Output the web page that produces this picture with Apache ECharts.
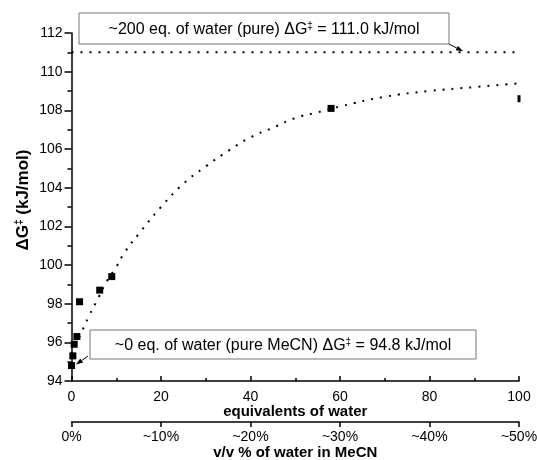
<!DOCTYPE html>
<html>
<head>
<meta charset="utf-8">
<script src="https://cdn.jsdelivr.net/npm/echarts@6/dist/echarts.min.js"></script>
<style>
html, body { margin: 0; padding: 0; background: #fff; }
#chart { width: 537px; height: 460px; }
</style>
</head>
<body>
<div id="chart"></div>
<script>
// measured points: equivalents of water vs barrier
var eqWater = [0, 0.3, 0.6, 1.2, 1.8, 6.3, 9.0, 58, 100];
var dGvalues = [94.8, 95.3, 95.9, 96.3, 98.1, 98.7, 99.4, 108.1, 108.6];
// dotted fit curve
var fitX = [0, 2, 4, 6, 8, 10, 12, 15, 20, 25, 30, 35, 40, 45, 50, 55, 60, 70, 80, 90, 100];
var fitY = [95.4, 96.4, 97.4, 98.3, 99.2, 99.9, 100.7, 101.6, 103.0, 104.2, 105.1, 105.9, 106.6, 107.1, 107.6, 107.9, 108.2, 108.7, 109.0, 109.2, 109.4];
// pure water level
var pureWater = 111.0;
var pureLineX = [0, 100];
// axis ticks
var xTicks = [0, 100, 20];
var yTicks = [94, 112, 2];
var vvTicks = [0, 50, 10];

var FONT = 'Liberation Sans';
var chart = echarts.init(document.getElementById('chart'));

var scatterData = eqWater.map(function (x, i) {
    var d = { value: [x, dGvalues[i]] };
    if (x === 100) d.symbolSize = [3, 7];
    return d;
});

var option = {
    animation: false,
    textStyle: { fontFamily: FONT },
    grid: { left: 71.5, right: 18, top: 33, bottom: 79, outerBoundsMode: 'none', containLabel: false },
    xAxis: [{
        type: 'value', min: xTicks[0], max: xTicks[1], interval: xTicks[2],
        position: 'bottom',
        name: 'equivalents of water', nameLocation: 'middle', nameGap: 23, nameMoveOverlap: false,
        nameTextStyle: { fontFamily: FONT, fontSize: 15, fontWeight: 'bold', color: '#000' },
        axisLine: { lineStyle: { color: '#000', width: 1.5 } },
        axisTick: { inside: true, length: 5, lineStyle: { color: '#000', width: 1.5 } },
        minorTick: { show: true, splitNumber: 2, length: 3, lineStyle: { color: '#000', width: 1.5 } },
        axisLabel: { fontFamily: FONT, fontSize: 14, color: '#000', margin: 9 },
        splitLine: { show: false }
    }, {
        type: 'value', min: vvTicks[0], max: vvTicks[1], interval: vvTicks[2],
        position: 'bottom', offset: 41,
        name: 'v/v % of water in MeCN', nameLocation: 'middle', nameGap: 23, nameMoveOverlap: false,
        nameTextStyle: { fontFamily: FONT, fontSize: 15, fontWeight: 'bold', color: '#000' },
        axisLine: { lineStyle: { color: '#000', width: 1.5 } },
        axisTick: { inside: false, length: 5, lineStyle: { color: '#000', width: 1.5 } },
        axisLabel: {
            fontFamily: FONT, fontSize: 14, color: '#000', margin: 8,
            formatter: function (v) { return v === 0 ? '0%' : '~' + v + '%'; }
        },
        splitLine: { show: false }
    }],
    yAxis: {
        type: 'value', min: yTicks[0], max: yTicks[1], interval: yTicks[2],
        name: '{n|ΔG}{s|‡}{n| (kJ/mol)}', nameLocation: 'middle', nameGap: 40, nameRotate: 90,
        nameMoveOverlap: false,
        nameTextStyle: {
            padding: [0, 0, 0, 14],
            rich: {
                n: { fontFamily: FONT, fontSize: 17, fontWeight: 'bold', color: '#000', verticalAlign: 'bottom' },
                s: { fontFamily: FONT, fontSize: 10, fontWeight: 'bold', color: '#000', verticalAlign: 'top' }
            }
        },
        axisLine: { show: true, lineStyle: { color: '#000', width: 1.5 } },
        axisTick: { inside: false, length: 7, lineStyle: { color: '#000', width: 1.5 } },
        minorTick: { show: true, splitNumber: 2, length: 4, lineStyle: { color: '#000', width: 1.5 } },
        axisLabel: { fontFamily: FONT, fontSize: 14, color: '#000', margin: 9 },
        splitLine: { show: false }
    },
    series: [{
        type: 'line',
        data: pureLineX.map(function (x) { return [x, pureWater]; }),
        showSymbol: false,
        lineStyle: { color: '#000', width: 2, type: [2, 7] },
        silent: true
    }, {
        type: 'line',
        data: fitX.map(function (x, i) { return [x, fitY[i]]; }),
        smooth: true,
        showSymbol: false,
        lineStyle: { color: '#000', width: 2, type: [2, 7] },
        silent: true
    }, {
        type: 'scatter',
        data: scatterData,
        symbol: 'rect',
        symbolSize: 7,
        itemStyle: { color: '#000', opacity: 1 },
        z: 5
    }]
};
chart.setOption(option);

function arrow(from, tip) {
    var ang = Math.atan2(tip[1] - from[1], tip[0] - from[0]);
    var L = 7, W = 2.5;
    var bx = tip[0] - L * Math.cos(ang), by = tip[1] - L * Math.sin(ang);
    var px = -Math.sin(ang) * W, py = Math.cos(ang) * W;
    return [{
        type: 'polyline', z: 10,
        shape: { points: [from, [bx, by]] },
        style: { stroke: '#000', lineWidth: 1, fill: null }
    }, {
        type: 'polygon', z: 10,
        shape: { points: [tip, [bx + px, by + py], [bx - px, by - py]] },
        style: { fill: '#000' }
    }];
}

function labelBox(x, y, w, h, text) {
    return [{
        type: 'rect', z: 9,
        shape: { x: x, y: y, width: w, height: h },
        style: { fill: '#fff', stroke: '#777', lineWidth: 1 }
    }, {
        type: 'text', z: 11,
        x: x + w / 2, y: y + h / 2 + 1,
        style: {
            text: text, align: 'center', verticalAlign: 'middle',
            rich: {
                n: { fontFamily: FONT, fontSize: 16, fill: '#000', verticalAlign: 'bottom' },
                s: { fontFamily: FONT, fontSize: 10, fill: '#000', verticalAlign: 'top' }
            }
        }
    }];
}

var tip1 = chart.convertToPixel({ xAxisIndex: 0, yAxisIndex: 0 }, [87.5, pureWater]);
var tip2 = chart.convertToPixel({ xAxisIndex: 0, yAxisIndex: 0 }, [1.0, 94.85]);

var graphics = []
    .concat(labelBox(79, 13, 370, 31, '{n|~200 eq. of water (pure) ΔG}{s|‡}{n| = 111.0 kJ/mol}'))
    .concat(arrow([449, 44], [tip1[0], tip1[1] - 1]))
    .concat(labelBox(90, 330, 386, 29, '{n|~0 eq. of water (pure MeCN) ΔG}{s|‡}{n| = 94.8 kJ/mol}'))
    .concat(arrow([88, 356], tip2));

chart.setOption({ graphic: graphics });
</script>
</body>
</html>
